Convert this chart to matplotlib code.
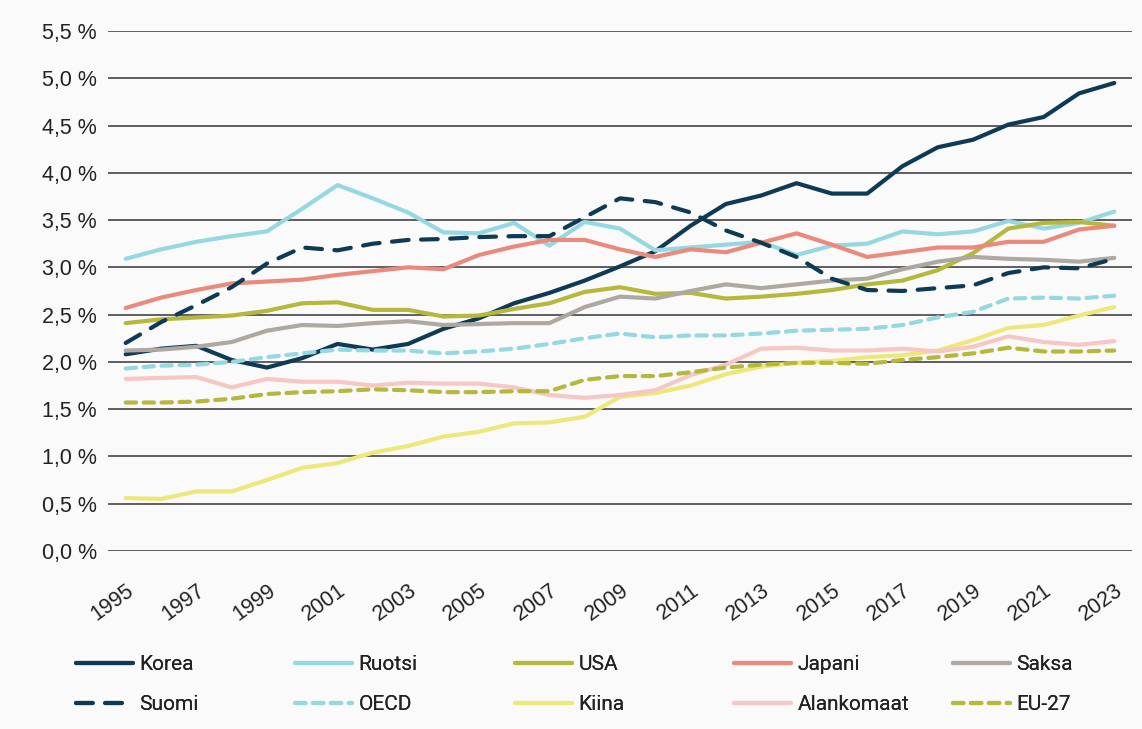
import matplotlib
matplotlib.use('Agg')
import matplotlib.pyplot as plt
from matplotlib.ticker import FuncFormatter

plt.rcParams['font.family'] = ['Liberation Sans', 'DejaVu Sans']

years = list(range(1995, 2024))

korea = [2.08, 2.14, 2.17, 2.02, 1.94, 2.04, 2.19, 2.13, 2.19, 2.35, 2.46, 2.62, 2.73,
         2.86, 3.01, 3.17, 3.44, 3.67, 3.76, 3.89, 3.78, 3.78, 4.07, 4.27, 4.35, 4.51,
         4.59, 4.84, 4.95]
ruotsi = [3.09, 3.19, 3.27, 3.33, 3.38, 3.62, 3.87, 3.73, 3.58, 3.37, 3.36, 3.47, 3.23,
          3.48, 3.41, 3.18, 3.21, 3.24, 3.27, 3.13, 3.23, 3.25, 3.38, 3.35, 3.38, 3.49,
          3.41, 3.47, 3.59]
usa = [2.41, 2.45, 2.47, 2.49, 2.54, 2.62, 2.63, 2.55, 2.55, 2.48, 2.49, 2.56, 2.62,
       2.74, 2.79, 2.72, 2.73, 2.67, 2.69, 2.72, 2.76, 2.82, 2.86, 2.97, 3.15, 3.41,
       3.47, 3.48, 3.44]
japani = [2.57, 2.68, 2.76, 2.83, 2.85, 2.87, 2.92, 2.96, 3.00, 2.98, 3.13, 3.22, 3.29,
          3.29, 3.19, 3.11, 3.19, 3.16, 3.26, 3.36, 3.24, 3.11, 3.16, 3.21, 3.21, 3.27,
          3.27, 3.40, 3.44]
saksa = [2.12, 2.13, 2.16, 2.21, 2.33, 2.39, 2.38, 2.41, 2.43, 2.39, 2.40, 2.41, 2.41,
         2.58, 2.69, 2.67, 2.75, 2.82, 2.78, 2.82, 2.86, 2.88, 2.98, 3.06, 3.11, 3.09,
         3.08, 3.06, 3.10]
suomi = [2.20, 2.42, 2.60, 2.79, 3.04, 3.21, 3.18, 3.25, 3.29, 3.30, 3.32, 3.33, 3.33,
         3.53, 3.73, 3.69, 3.58, 3.39, 3.26, 3.11, 2.88, 2.76, 2.75, 2.78, 2.81, 2.94,
         3.00, 2.99, 3.09]
oecd = [1.93, 1.96, 1.97, 2.00, 2.05, 2.09, 2.13, 2.12, 2.12, 2.09, 2.11, 2.14, 2.19,
        2.25, 2.30, 2.26, 2.28, 2.28, 2.30, 2.33, 2.34, 2.35, 2.39, 2.47, 2.53, 2.67,
        2.68, 2.67, 2.70]
kiina = [0.56, 0.55, 0.63, 0.63, 0.75, 0.88, 0.93, 1.04, 1.11, 1.21, 1.26, 1.35, 1.36,
         1.42, 1.63, 1.67, 1.75, 1.87, 1.95, 1.99, 2.01, 2.05, 2.07, 2.12, 2.23, 2.36,
         2.39, 2.49, 2.58]
alankomaat = [1.82, 1.83, 1.84, 1.73, 1.82, 1.79, 1.79, 1.75, 1.78, 1.77, 1.77, 1.73, 1.65,
              1.62, 1.65, 1.70, 1.86, 1.97, 2.14, 2.15, 2.12, 2.12, 2.14, 2.11, 2.16, 2.27,
              2.21, 2.18, 2.22]
eu27 = [1.57, 1.57, 1.58, 1.61, 1.66, 1.68, 1.69, 1.71, 1.70, 1.68, 1.68, 1.69, 1.69,
        1.81, 1.85, 1.85, 1.89, 1.94, 1.97, 1.99, 1.99, 1.98, 2.02, 2.05, 2.09, 2.15,
        2.11, 2.11, 2.12]

NAVY = '#0e3a55'
CYAN = '#96d8e2'
OLIVE = '#b6b83c'
SALMON = '#ea8a7d'
GREY = '#aea8a3'
YELLOW = '#eee87a'
PINK = '#f7c7c5'

# (label, data, color, dashes or None)
series = [
    ('Korea', korea, NAVY, None),
    ('Ruotsi', ruotsi, CYAN, None),
    ('USA', usa, OLIVE, None),
    ('Japani', japani, SALMON, None),
    ('Saksa', saksa, GREY, None),
    ('Suomi', suomi, NAVY, (4, 3)),
    ('OECD', oecd, CYAN, (2.5, 1.8)),
    ('Kiina', kiina, YELLOW, None),
    ('Alankomaat', alankomaat, PINK, None),
    ('EU-27', eu27, OLIVE, (2.5, 1.8)),
]

BG = '#fafafa'
fig = plt.figure(figsize=(11.42, 7.29), dpi=100, facecolor=BG)
ax = fig.add_axes([0.0946, 0.2442, 0.8966, 0.7133])
ax.set_facecolor(BG)

x = list(range(len(years)))
handles = {}
for label, data, color, dashes in series:
    if dashes is None:
        ln, = ax.plot(x, data, color=color, lw=3.0, solid_capstyle='round',
                      solid_joinstyle='round', label=label)
    else:
        ln, = ax.plot(x, data, color=color, lw=3.0, linestyle=(0, dashes),
                      dash_capstyle='round', dash_joinstyle='round', label=label)
    handles[label] = ln

ax.set_xlim(-0.5, len(years) - 0.5)
ax.set_ylim(0, 5.5)
ax.set_yticks([i * 0.5 for i in range(12)])
ax.yaxis.set_major_formatter(FuncFormatter(lambda v, p: f'{v:.1f} %'.replace('.', ',')))
ax.set_xticks(x[::2])
ax.set_xticklabels([str(y) for y in years[::2]], rotation=36, ha='right', va='top',
                   rotation_mode='anchor')
ax.tick_params(axis='both', length=0, labelsize=15.5, colors='#222222')
ax.tick_params(axis='x', pad=21)
ax.tick_params(axis='y', pad=8)

ax.grid(axis='y', color='#444444', lw=1.2)
ax.set_axisbelow(True)
for s in ax.spines.values():
    s.set_visible(False)

# legend: five columns of two rows each
cols = [('Korea', 'Suomi'), ('Ruotsi', 'OECD'), ('USA', 'Kiina'),
        ('Japani', 'Alankomaat'), ('Saksa', 'EU-27')]
col_x = [76, 295, 515, 734, 953]
for (a, b), px in zip(cols, col_x):
    leg = fig.legend([handles[a], handles[b]], [a, b], loc='upper left',
                     bbox_to_anchor=(px / 1142, 1 - 655 / 729), frameon=False,
                     borderpad=0, borderaxespad=0, handlelength=2.75,
                     handletextpad=0.3, labelspacing=1.0,
                     prop={'family': 'Roboto', 'size': 15})
    for t in leg.get_texts():
        t.set_color('#222222')
    fig.add_artist(leg)

fig.savefig('out.png', dpi=100, facecolor=BG)
